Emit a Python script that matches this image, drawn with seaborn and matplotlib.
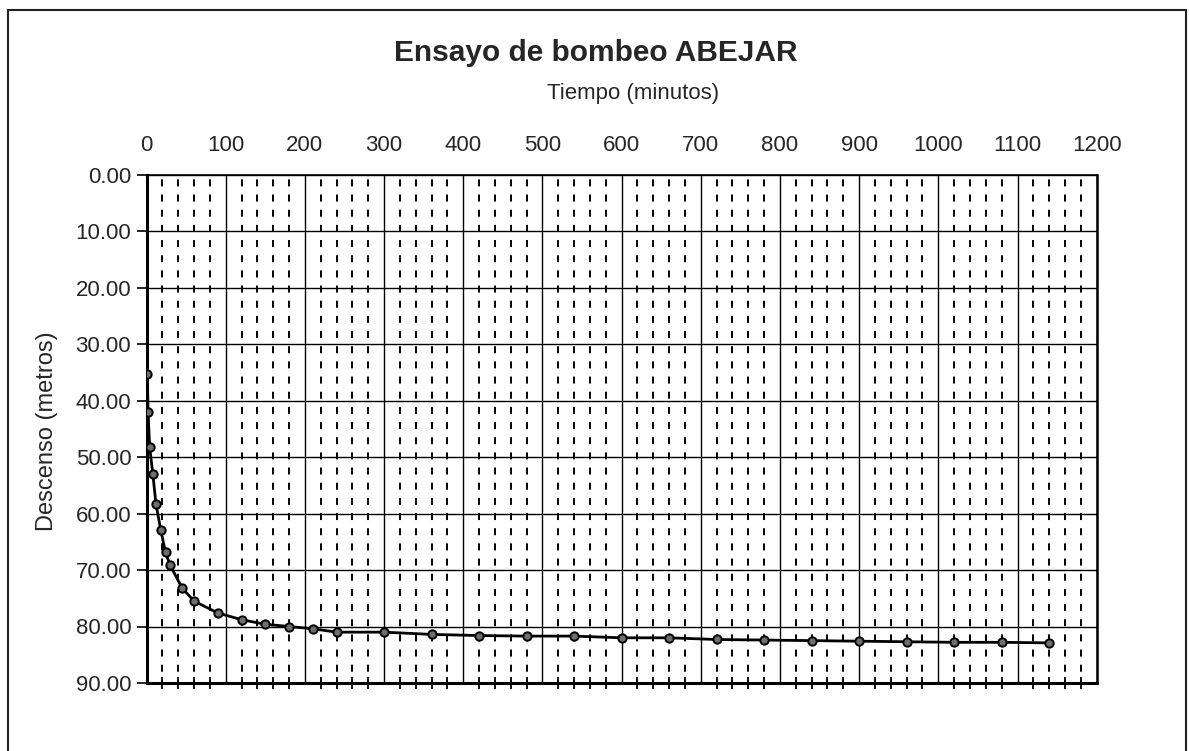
import matplotlib
matplotlib.use("Agg")
import matplotlib.pyplot as plt
from matplotlib.patches import Rectangle
from matplotlib.ticker import MultipleLocator, FormatStrFormatter
import seaborn as sns
import pandas as pd

# --- data ---
tiempo = [1, 2, 4, 8, 12, 18, 24, 30, 45, 60, 90, 120, 150, 180, 210, 240,
          300, 360, 420, 480, 540, 600, 660, 720, 780, 840, 900, 960, 1020,
          1080, 1140]
descenso = [35.3, 42.1, 48.3, 53.0, 58.4, 62.9, 66.9, 69.2, 73.2, 75.5, 77.6,
            78.8, 79.6, 80.0, 80.4, 81.0, 81.0, 81.4, 81.6, 81.7, 81.7, 82.0,
            82.0, 82.3, 82.4, 82.5, 82.6, 82.7, 82.8, 82.8, 82.9]
x_ticks = [0, 100, 200, 300, 400, 500, 600, 700, 800, 900, 1000, 1100, 1200]
y_ticks = [0, 10, 20, 30, 40, 50, 60, 70, 80, 90]

titulo = "Ensayo de bombeo ABEJAR"
eje_x = "Tiempo (minutos)"
eje_y = "Descenso (metros)"

df = pd.DataFrame({"tiempo": tiempo, "descenso": descenso})

sns.set_style("white")
plt.rcParams["font.family"] = ["Liberation Sans", "DejaVu Sans"]

W, H = 1189, 751
fig = plt.figure(figsize=(W / 100, H / 100), dpi=100)
ax = fig.add_axes([146.5 / W, 1 - 683 / H, (1096.7 - 146.5) / W, (683 - 174.5) / H])

# grid
ax.set_xlim(0, 1200)
ax.set_ylim(90, 0)
ax.xaxis.set_major_locator(MultipleLocator(100))
ax.xaxis.set_minor_locator(MultipleLocator(20))
ax.set_xticks(x_ticks)
ax.set_yticks(y_ticks)
ax.yaxis.set_major_formatter(FormatStrFormatter("%.2f"))
ax.grid(False)
ax.xaxis.grid(True, which="minor", color="black", linestyle=(2, (3.6, 4.2)), linewidth=1.4)
ax.xaxis.grid(True, which="major", color="black", linestyle="-", linewidth=1.0)
ax.yaxis.grid(True, which="major", color="black", linestyle="-", linewidth=1.0)
ax.set_axisbelow(True)

sns.lineplot(data=df, x="tiempo", y="descenso", ax=ax, color="black",
             linewidth=2.0, marker="o", markersize=6,
             markerfacecolor="#6e6e6e", markeredgecolor="black",
             markeredgewidth=1.4, zorder=5)

ax.set_xlabel("")
ax.set_ylabel("")

ax.tick_params(axis="x", which="both", top=False, labeltop=True,
               bottom=True, labelbottom=False, direction="inout",
               length=9, width=1.3, color="black", labelsize=16, pad=8)
ax.tick_params(axis="x", which="major", top=True, length=0, pad=13)
ax.tick_params(axis="y", which="major", left=True, direction="out",
               length=7, width=1.2, color="black", labelsize=16, pad=4)

for side, lw in (("left", 2.2), ("bottom", 2.2), ("right", 1.8), ("top", 1.2)):
    ax.spines[side].set_visible(True)
    ax.spines[side].set_color("black")
    ax.spines[side].set_linewidth(lw)

fig.text(596 / W, 1 - 61 / H, titulo, ha="center", va="baseline",
         fontsize=21.5, fontweight="bold")
fig.text(633 / W, 1 - 99 / H, eje_x, ha="center", va="baseline", fontsize=16)
fig.text(47 / W, 1 - 431 / H, eje_y, ha="center", va="center",
         fontsize=17, rotation=90)

fig.patches.append(Rectangle((8 / W, -0.02), (1186 - 8) / W, 1.02 - 10 / H,
                             transform=fig.transFigure, fill=False,
                             edgecolor="#222222", linewidth=1.5))

fig.savefig("out.png", dpi=100, facecolor="white")
